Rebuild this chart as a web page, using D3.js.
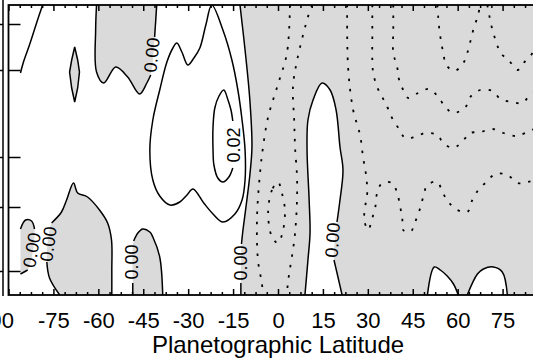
<!DOCTYPE html>
<html>
<head>
<meta charset="utf-8">
<script src="https://cdn.jsdelivr.net/npm/d3@7"></script>
<style>
  html, body { margin: 0; padding: 0; background: #fff; overflow: hidden; }
  svg { display: block; font-family: "Liberation Sans", Arial, sans-serif; }
</style>
</head>
<body>
<div id="wrapper"></div>
<script>
// axis values
const latTicks = [-90, -75, -60, -45, -30, -15, 0, 15, 30, 45, 60, 75, 90];
const levelTicks = [54.2, 45, 27.6, 17.6, 4.8];

// contour lines, [latitude, level]; pieces split where a label sits
const lineTopLeft = [[-78.6, 58], [-80.3, 55], [-83.0, 50], [-85.0, 46.6], [-86.0, 44.4]];
const lens = [[-67.9, 49.6], [-68.9, 47], [-69.6, 44.6], [-68.9, 41.4], [-67.9, 38.6], [-66.9, 41.4], [-66.3, 44.6], [-66.9, 47]];
const topGrayA = [[-60.6, 58], [-60.9, 53], [-60.6, 44.6], [-58.2, 42.4], [-54.2, 45.6], [-50.2, 43.6], [-46.2, 40.2], [-43.8, 42.4], [-42.5, 44]];
const topGrayB = [[-41.2, 51.6], [-40.5, 58]];
const lowGrayA = [[-86.0, 13.2], [-84.3, 15], [-82.3, 14.8], [-81.3, 13.2]];
const lowGrayB = [[-83.6, 5], [-86.0, 4.2]];
const hillA = [[-72.9, 0], [-76.3, 3.4], [-77.2, 6.6]];
const hillB = [[-75.6, 14.4], [-72.3, 16.6], [-70.6, 19], [-68.3, 22.4], [-66.9, 20.4], [-63.6, 19.6], [-59.6, 17], [-56.9, 14.4], [-55.6, 11], [-55.5, 5], [-55.5, 0]];
const bumpA = [[-48.5, 0], [-48.5, 2.4]];
const bumpB = [[-48.2, 10.8], [-46.8, 12.4], [-45.2, 13.2], [-42.8, 12.6], [-41.8, 11.6], [-39.5, 7.6], [-38.5, 0]];
const outerLoop = [[-22.1, 58], [-18.4, 53], [-15.4, 47], [-13.4, 41], [-12.0, 35], [-11.0, 29], [-11.0, 23], [-12.0, 19], [-14.4, 16.2], [-18.4, 14.6], [-21.7, 16.2], [-24.8, 18.4], [-28.4, 21.2], [-30.4, 20], [-32.8, 18.6], [-36.1, 18], [-39.5, 19.8], [-41.8, 23], [-42.8, 29], [-41.8, 35], [-39.5, 41], [-37.1, 46.6], [-35.1, 49.4], [-33.8, 50.4], [-32.1, 48.6], [-30.1, 46], [-28.1, 47.4], [-26.1, 49.4], [-24.1, 54]];
const innerLoop = [[-15.1, 25.4], [-16.4, 23.6], [-18.4, 22.6], [-20.1, 23.4], [-21.4, 26], [-21.7, 29], [-21.7, 33.6], [-21.1, 37.4], [-19.7, 39.8], [-18.1, 41], [-16.7, 39], [-15.7, 37], [-15.1, 34.8]];
const zeroA = [[-12.7, 58], [-11.0, 49], [-9.4, 39], [-8.7, 29.6], [-9.4, 24], [-10.4, 19], [-11.7, 13], [-12.2, 10.2]];
const zeroB = [[-12.4, 2.4], [-12.4, 0]];
const lobeA = [[9.0, 0], [10.0, 7], [10.7, 12.4], [10.4, 19], [9.7, 29], [10.0, 35], [11.7, 39], [14.7, 42.4], [17.4, 41], [19.4, 37], [20.7, 29.6], [21.7, 25], [20.7, 19], [19.7, 14.6]];
const lobeB = [[18.7, 7], [20.1, 3.4], [21.4, 0]];
const footA = [[49.9, 0], [52.2, 5.6], [54.2, 5], [56.5, 3.8], [58.6, 2.2], [60.2, 0]];
const footB = [[63.2, 0], [66.6, 4.2], [68.6, 5.2], [71.9, 5.6], [74.9, 4.6], [76.6, 0]];

// negative contours (dotted)
const neg1 = [[4.0, 58], [3.0, 48.4], [-0.3, 41.6], [-3.3, 35.6], [-5.0, 29.6], [-6.0, 24.4], [-7.0, 15.6], [-6.7, 7], [-5.4, 2.4], [-5.0, 0]];
const neg2 = [[11.4, 58], [10.0, 55.6], [6.4, 47], [5.0, 41.6], [5.4, 35], [5.7, 29.6], [6.4, 22.4], [5.7, 12.4], [3.3, 2.4], [3.0, 0]];
const negLoop = [[0, 22.6], [-2.0, 21], [-3.3, 16.4], [-2.0, 11.6], [0, 10.4], [1.7, 13], [2.3, 17], [1.3, 20.4]];
const neg3 = [[23.1, 58], [23.4, 45.6], [25.1, 37], [27.4, 32], [28.4, 27.6], [29.4, 24], [29.8, 20.4], [29.1, 17.6], [28.8, 15], [30.1, 13], [31.5, 15.4], [32.5, 17.6], [33.1, 20.4], [34.8, 22.4], [38.1, 22.4], [39.8, 20.4], [40.8, 17.6], [41.5, 15.4], [41.8, 13], [44.2, 12.6], [45.8, 14.6], [47.5, 17.4], [48.5, 19.6], [49.9, 22], [53.2, 22.6], [54.9, 20.6], [56.9, 18.6], [59.9, 17], [63.2, 16.6], [64.9, 19], [66.9, 21], [69.6, 22.6], [72.6, 24.2], [76.6, 24], [80.0, 22.4], [83.3, 22.6], [90, 23.4]];
const neg4 = [[31.5, 58], [31.5, 51.6], [31.5, 47], [31.8, 44.4], [33.1, 41.6], [34.8, 39.6], [36.5, 37.6], [38.1, 35.4], [40.2, 33.4], [42.5, 31.4], [45.8, 31.6], [49.2, 32.4], [53.2, 32], [55.2, 30.4], [58.6, 29.4], [62.6, 31.4], [64.2, 32.4], [67.6, 32.6], [71.6, 33.2], [75.3, 32.4], [79.3, 31.8], [82.6, 32.4], [90, 34.6]];
const neg5 = [[38.5, 58], [38.5, 53], [38.5, 48.4], [39.8, 45.6], [40.2, 43.6], [41.5, 41.4], [43.5, 39.4], [46.8, 40.4], [50.5, 41.2], [53.5, 39.6], [55.9, 37.6], [58.6, 36.4], [62.6, 37.6], [64.2, 39.6], [67.6, 41], [71.6, 40.8], [74.3, 39.2], [78.3, 38.6], [81.6, 38.4], [84.3, 40], [90, 41.4]];
const neg6 = [[53.2, 58], [53.5, 55.6], [53.9, 53], [54.5, 50.6], [55.2, 48.4], [56.2, 46], [58.9, 44.8], [61.9, 46.4], [63.2, 48.4], [64.2, 50.6], [65.2, 53], [66.6, 55.6], [67.6, 58]];
const neg7 = [[69.9, 58], [71.6, 53], [72.9, 50.6], [74.3, 48.4], [77.0, 47], [80.0, 45], [82.0, 46.4], [85.0, 48.4], [86.7, 51], [90, 53]];

// contour labels: text, latitude, level, angle
const labelText = ["0.00", "0.00", "0.00", "0.00", "0.02", "0.00", "0.00"];
const labelLat = [-42.2, -82.3, -76.8, -48.8, -15.0, -12.6, 18.1];
const labelLev = [48, 9, 10.2, 6.6, 30, 6.4, 11];
const labelRot = [-84, -80, -83, -90, -90, -90, -86];

const width = 533, height = 359;
const gray = "#dadada";

const x = d3.scaleLinear().domain([-90, 90]).range([8.5, 547.5]);
const y = d3.scaleLinear().domain([0, 58]).range([295, 5]);

const svg = d3.select("#wrapper").append("svg")
  .attr("width", width)
  .attr("height", height);

svg.append("clipPath").attr("id", "plotClip")
  .append("rect")
  .attr("x", x(-90)).attr("y", y(58))
  .attr("width", x(90) - x(-90)).attr("height", y(0) - y(58));

const plot = svg.append("g").attr("clip-path", "url(#plotClip)");

const smooth = d3.line().x(d => x(d[0])).y(d => y(d[1])).curve(d3.curveCatmullRom.alpha(0.5));
const smoothLoop = d3.line().x(d => x(d[0])).y(d => y(d[1])).curve(d3.curveCatmullRomClosed.alpha(0.5));
const straightLoop = d3.line().x(d => x(d[0])).y(d => y(d[1])).curve(d3.curveLinearClosed);

function fillPath(pts, edge) {
  let p = smooth(pts);
  (edge || []).forEach(e => { p += "L" + x(e[0]) + "," + y(e[1]); });
  return p + "Z";
}

// shaded (negative) areas
const grayAreas = [
  fillPath(topGrayA.concat(topGrayB)),
  straightLoop(lens),
  fillPath(lowGrayA.concat(lowGrayB)),
  fillPath(hillA.concat(hillB)),
  fillPath(bumpA.concat(bumpB)),
  fillPath(zeroA.concat(zeroB), [[90, 0], [90, 58]])
];
plot.selectAll("path.gray").data(grayAreas).join("path")
  .attr("class", "gray")
  .attr("d", d => d)
  .attr("fill", gray);

// positive holes inside the shaded area
const whiteAreas = [fillPath(lobeA.concat(lobeB)), fillPath(footA), fillPath(footB)];
plot.selectAll("path.white").data(whiteAreas).join("path")
  .attr("class", "white")
  .attr("d", d => d)
  .attr("fill", "#fff");

// solid contours
const solidOpen = [lineTopLeft, topGrayA, topGrayB, lowGrayA, lowGrayB, hillA, hillB, bumpA, bumpB, zeroA, zeroB, lobeA, lobeB, footA, footB, innerLoop];
plot.selectAll("path.solid").data(solidOpen).join("path")
  .attr("class", "solid")
  .attr("d", smooth)
  .attr("fill", "none")
  .attr("stroke", "#000")
  .attr("stroke-width", 1.5)
  .attr("stroke-linejoin", "round");

plot.append("path")
  .attr("d", smoothLoop(outerLoop))
  .attr("fill", "none").attr("stroke", "#000").attr("stroke-width", 1.5);

plot.append("path")
  .attr("d", straightLoop(lens))
  .attr("fill", "none").attr("stroke", "#000").attr("stroke-width", 1.5);

// dotted negative contours
plot.selectAll("path.neg").data([neg1, neg2, neg3, neg4, neg5, neg6, neg7]).join("path")
  .attr("class", "neg")
  .attr("d", smooth)
  .attr("fill", "none")
  .attr("stroke", "#000")
  .attr("stroke-width", 1.8)
  .attr("stroke-dasharray", "2.5,8");

plot.append("path")
  .attr("d", smoothLoop(negLoop))
  .attr("fill", "none").attr("stroke", "#000").attr("stroke-width", 1.8)
  .attr("stroke-dasharray", "2.5,8");

// contour labels
plot.selectAll("text.clab").data(labelText).join("text")
  .attr("class", "clab")
  .attr("transform", (d, i) => `translate(${x(labelLat[i])},${y(labelLev[i])}) rotate(${labelRot[i]})`)
  .attr("text-anchor", "middle")
  .attr("dy", "0.36em")
  .attr("font-size", 18)
  .attr("fill", "#000")
  .text(d => d);

// frame
svg.append("rect")
  .attr("x", x(-90)).attr("y", y(58))
  .attr("width", x(90) - x(-90)).attr("height", y(0) - y(58))
  .attr("fill", "none").attr("stroke", "#000").attr("stroke-width", 1.8);

// minor ticks every quarter of a labelled step
const minorTicks = d3.range(-90, 90.01, 3.75).filter(v => v % 15 !== 0);

function styleAxis(g) {
  g.select(".domain").remove();
  g.selectAll("line").attr("stroke", "#000").attr("stroke-width", 1.5);
}

svg.append("g").attr("transform", `translate(0,${y(0)})`)
  .call(d3.axisBottom(x).tickValues(minorTicks).tickSize(-3).tickFormat(""))
  .call(styleAxis);

const bottomAxis = svg.append("g").attr("transform", `translate(0,${y(0)})`)
  .call(d3.axisBottom(x).tickValues(latTicks).tickSize(-6).tickPadding(17).tickFormat(d => String(d)))
  .call(styleAxis);
bottomAxis.attr("font-size", 22).attr("font-family", null);
bottomAxis.selectAll("text").attr("fill", "#000");
// the end labels sit pushed outward, as in the original
bottomAxis.selectAll("text").filter(d => Math.abs(d) === 90).attr("dx", d => d < 0 ? -11 : 11);

svg.append("g").attr("transform", `translate(0,${y(58)})`)
  .call(d3.axisTop(x).tickValues(minorTicks).tickSize(-3).tickFormat(""))
  .call(styleAxis);
svg.append("g").attr("transform", `translate(0,${y(58)})`)
  .call(d3.axisTop(x).tickValues(latTicks).tickSize(-6).tickFormat(""))
  .call(styleAxis);

svg.append("g").attr("transform", `translate(${x(-90)},0)`)
  .call(d3.axisLeft(y).tickValues(levelTicks).tickSize(-12).tickFormat(""))
  .call(styleAxis);

// edge of the neighbouring panel
svg.append("line")
  .attr("x1", 3).attr("x2", 3).attr("y1", 0).attr("y2", y(0) + 1)
  .attr("stroke", "#000").attr("stroke-width", 1.5);
svg.append("g").attr("transform", "translate(3,0)")
  .call(d3.axisRight(y).tickValues(levelTicks).tickSize(-8).tickFormat(""))
  .call(styleAxis);

svg.append("text")
  .attr("x", x(0))
  .attr("y", 353)
  .attr("text-anchor", "middle")
  .attr("font-size", 24)
  .attr("fill", "#000")
  .text("Planetographic Latitude");
</script>
</body>
</html>
